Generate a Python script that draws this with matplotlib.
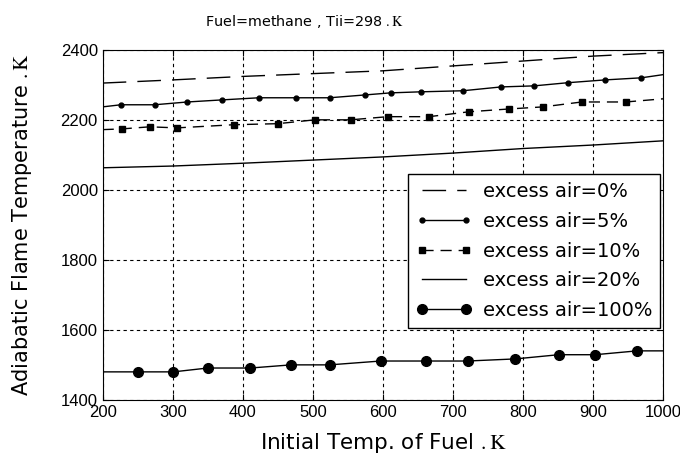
import matplotlib
matplotlib.use("Agg")
import matplotlib.pyplot as plt

plt.rcParams['font.family'] = ['DejaVu Sans']
plt.rcParams['mathtext.fontset'] = 'stix'

# excess air = 0%
t0 = [200, 300, 400, 500, 600, 700, 800, 900, 1000]
T0 = [2305, 2314, 2324, 2332, 2340, 2354, 2368, 2382, 2392]

# excess air = 5%
t5 = [200, 226, 274, 321, 371, 423, 476, 524, 574, 611, 654, 714, 769, 816, 864, 917, 969, 1000]
T5 = [2237, 2243, 2243, 2251, 2257, 2263, 2263, 2263, 2271, 2277, 2280, 2283, 2294, 2297, 2306, 2314, 2320, 2329]

# excess air = 10%
t10 = [200, 227, 267, 306, 387, 450, 503, 554, 607, 666, 723, 780, 829, 884, 947, 1000]
T10 = [2172, 2174, 2180, 2177, 2186, 2189, 2200, 2200, 2209, 2209, 2223, 2231, 2237, 2251, 2251, 2260]

# excess air = 20%
t20 = [200, 300, 400, 500, 600, 700, 800, 900, 1000]
T20 = [2063, 2068, 2076, 2085, 2094, 2105, 2118, 2128, 2140]

# excess air = 100%
t100 = [200, 250, 301, 350, 411, 469, 524, 597, 661, 721, 789, 851, 903, 963, 1000]
T100 = [1480, 1480, 1480, 1491, 1491, 1500, 1500, 1511, 1511, 1511, 1517, 1529, 1529, 1540, 1540]

xticks = [200, 300, 400, 500, 600, 700, 800, 900, 1000]
yticks = [1400, 1600, 1800, 2000, 2200, 2400]

fig, ax = plt.subplots(figsize=(6.8, 4.57), dpi=100)
fig.subplots_adjust(left=0.151, right=0.975, top=0.891, bottom=0.125)

inner = slice(1, -1)
ax.plot(t0, T0, color='k', lw=1, dashes=(17, 8), label='excess air=0%')
ax.plot(t5, T5, color='k', lw=1, marker='o', ms=3.5, markevery=inner, label='excess air=5%')
ax.plot(t10, T10, color='k', lw=1, dashes=(8, 5), marker='s', ms=5, markevery=inner, label='excess air=10%')
ax.plot(t20, T20, color='k', lw=1, label='excess air=20%')
ax.plot(t100, T100, color='k', lw=1, marker='o', ms=7, markevery=inner, label='excess air=100%')

ax.set_xlim(200, 1000)
ax.set_ylim(1400, 2400)
ax.set_xticks(xticks)
ax.set_yticks(yticks)
ax.tick_params(direction='in', top=True, right=True, length=4)
for lab in ax.get_xticklabels() + ax.get_yticklabels():
    lab.set_fontfamily('Liberation Sans')
    lab.set_fontsize(12)
ax.grid(True, color='k', linestyle=(0, (3, 3)), lw=0.8)

ax.set_title(r'Fuel=methane , Tii=298 $.\mathrm{K}$', fontsize=10.4, pad=17, x=0.36)
ax.set_xlabel(r'Initial Temp. of Fuel $.\mathrm{K}$', fontsize=15.5, labelpad=8)
ax.set_ylabel(r'Adiabatic Flame Temperature $.\mathrm{K}$', fontsize=15, labelpad=19)

leg = ax.legend(loc='lower right', bbox_to_anchor=(0.995, 0.206), fontsize=14,
                fancybox=False, edgecolor='k', framealpha=1, handlelength=2.9,
                handletextpad=0.55, labelspacing=0.55, borderaxespad=0,
                numpoints=2)
leg.get_frame().set_linewidth(1)

fig.savefig('out.png', dpi=100)
